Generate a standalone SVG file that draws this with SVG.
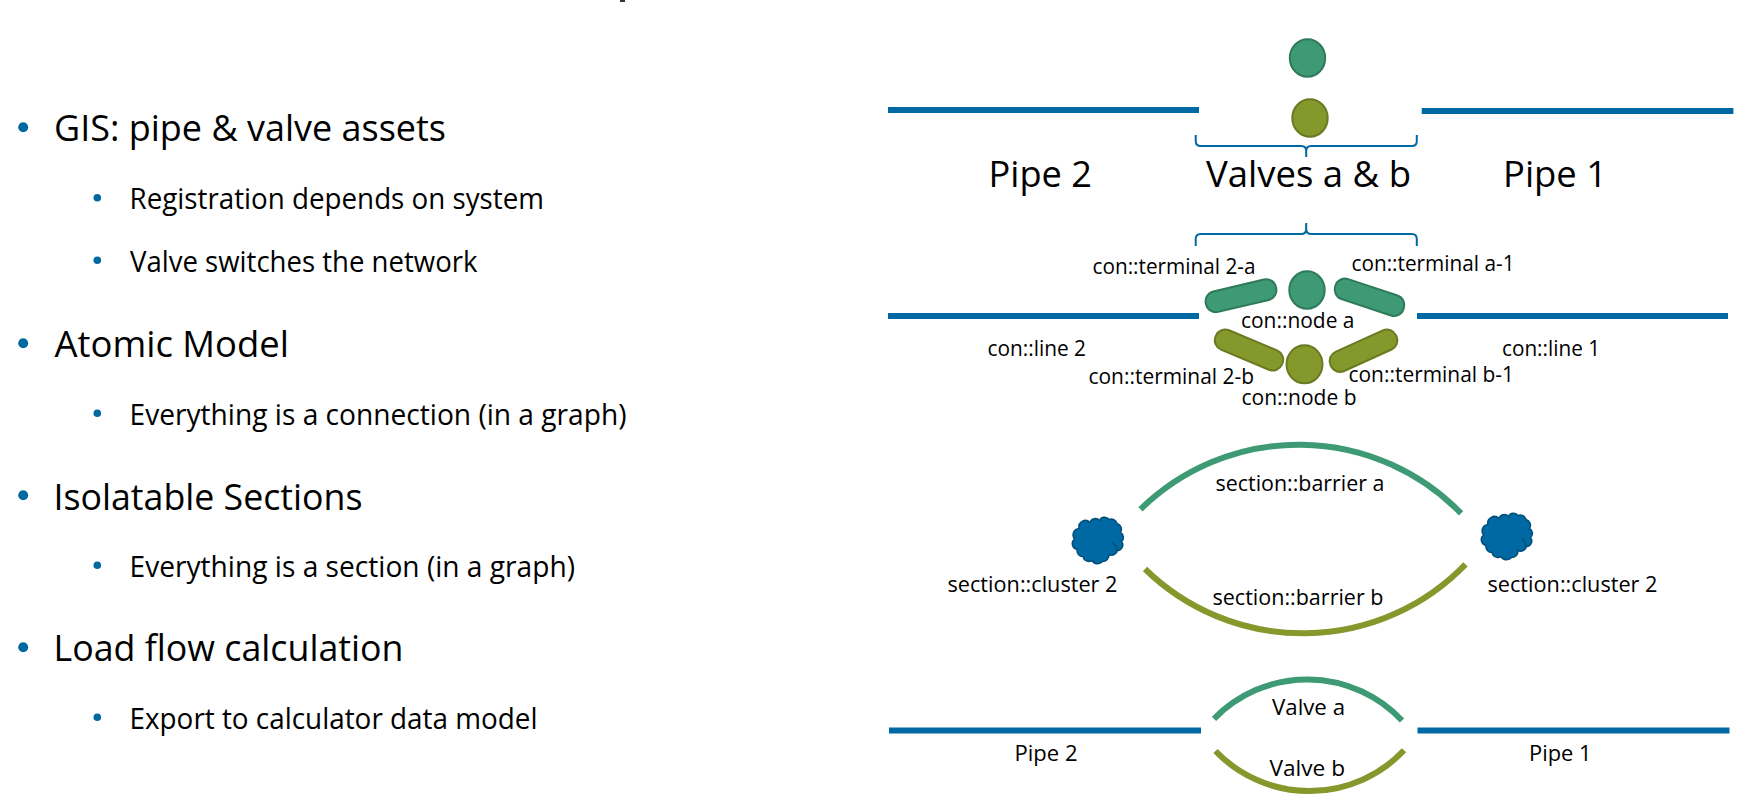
<svg xmlns="http://www.w3.org/2000/svg" width="1757" height="812" viewBox="0 0 1757 812">
<style>
text{font-family:"Open Sans","Noto Sans","Liberation Sans",sans-serif;fill:#000}
.h{font-size:36px}
.s{font-size:28.5px}
.l{font-size:21.5px}
.big{font-size:37px}
.bu{fill:#0069a3}
.pipe{stroke:#0069a3;stroke-width:6;fill:none}
.brace{stroke:#0069a3;stroke-width:2;fill:none}
.ga{fill:#3e9a74;stroke:#2f7a5b;stroke-width:2}
.ol{fill:#85982c;stroke:#6a7a22;stroke-width:2}
.ag{fill:none;stroke:#3e9a74;stroke-width:6}
.ao{fill:none;stroke:#85982c;stroke-width:6}
.cl{fill:#0069a3;stroke:#004f7a;stroke-width:1.5}
.cr{fill:none;stroke:#004f7a;stroke-width:1.5}
</style>
<defs>
<g id="cloud">
<path class="cl" d="M-19 -12A6.5 6.5 0 0 1 -8 -18A5.5 5.5 0 0 1 1.5 -20A5.5 5.5 0 0 1 11 -21A6 6 0 0 1 19 -17A6 6 0 0 1 22.5 -8A5.5 5.5 0 0 1 23.5 1A5.5 5.5 0 0 1 19.5 10A6 6 0 0 1 11 14A6.5 6.5 0 0 1 4.5 21A6.5 6.5 0 0 1 -6 20A6 6 0 0 1 -15 16A6 6 0 0 1 -21 9A6 6 0 0 1 -23.5 -1.5A6.5 6.5 0 0 1 -19 -12Z"/>
<path class="cr" d="M14.5 1.5Q18 4.5 19.5 10"/>
</g>
</defs>
<rect id="title-trace" x="620" y="0" width="5" height="2" fill="#333"/>
<g id="bullets">
<circle class="bu" cx="23.2" cy="127.3" r="5"/>
<text class="h" x="54" y="141" textLength="392" lengthAdjust="spacingAndGlyphs">GIS: pipe &amp; valve assets</text>
<circle class="bu" cx="97.3" cy="197.7" r="3.8"/>
<text class="s" x="129.5" y="208.7" textLength="414.5" lengthAdjust="spacingAndGlyphs">Registration depends on system</text>
<circle class="bu" cx="97.3" cy="260.3" r="3.8"/>
<text class="s" x="130" y="271.5" textLength="347.5" lengthAdjust="spacingAndGlyphs">Valve switches the network</text>
<circle class="bu" cx="23.2" cy="343.3" r="5"/>
<text class="h" x="54.5" y="356.5" textLength="234.5" lengthAdjust="spacingAndGlyphs">Atomic Model</text>
<circle class="bu" cx="97.3" cy="413.3" r="3.8"/>
<text class="s" x="129.5" y="425" textLength="497" lengthAdjust="spacingAndGlyphs">Everything is a connection (in a graph)</text>
<circle class="bu" cx="23.2" cy="495.3" r="5"/>
<text class="h" x="53.5" y="509.5" textLength="309" lengthAdjust="spacingAndGlyphs">Isolatable Sections</text>
<circle class="bu" cx="97.3" cy="565.3" r="3.8"/>
<text class="s" x="129.5" y="577" textLength="445.5" lengthAdjust="spacingAndGlyphs">Everything is a section (in a graph)</text>
<circle class="bu" cx="23.2" cy="647.3" r="5"/>
<text class="h" x="53.5" y="661" textLength="350" lengthAdjust="spacingAndGlyphs">Load flow calculation</text>
<circle class="bu" cx="97.3" cy="717.3" r="3.8"/>
<text class="s" x="129.5" y="729" textLength="408" lengthAdjust="spacingAndGlyphs">Export to calculator data model</text>
</g>
<g id="connectors">
<path class="pipe" d="M888 110H1199"/>
<path class="pipe" d="M1421.7 111H1733.4"/>
<path class="brace" d="M1195.7 135V141Q1195.7 146 1200.7 146H1301.2Q1306.2 146 1306.2 151V157M1306.2 151Q1306.2 146 1311.2 146H1411.8Q1416.8 146 1416.8 141V135"/>
<path class="brace" d="M1195.7 246V239Q1195.7 234 1200.7 234H1301.2Q1306.2 234 1306.2 229V223M1306.2 229Q1306.2 234 1311.2 234H1411.8Q1416.8 234 1416.8 239V246"/>
<path class="pipe" d="M888 316H1199"/>
<path class="pipe" d="M1417 316H1728"/>
<path class="ag" d="M1140.5 509.3A226 226 0 0 1 1461 513.3"/>
<path class="ao" d="M1145 569A226 226 0 0 0 1465.5 564.3"/>
<path class="ag" d="M1214 718.8A130 130 0 0 1 1402 720.5"/>
<path class="ao" d="M1215.5 751A130 130 0 0 0 1404 750.3"/>
<path class="pipe" d="M889 730.6H1201"/>
<path class="pipe" d="M1417.5 730.6H1729.5"/>
</g>
<g id="valve-a-top"><ellipse class="ga" cx="1307.5" cy="58" rx="17.7" ry="18.7"/></g>
<g id="valve-b-top"><ellipse class="ol" cx="1310" cy="118" rx="17.7" ry="18.7"/></g>
<g id="label-row-1">
<text class="big" x="988.5" y="187" textLength="103.5" lengthAdjust="spacingAndGlyphs">Pipe 2</text>
<text class="big" x="1206" y="187" textLength="205" lengthAdjust="spacingAndGlyphs">Valves a &amp; b</text>
<text class="big" x="1503" y="187" textLength="104" lengthAdjust="spacingAndGlyphs">Pipe 1</text>
</g>
<g id="node-a"><ellipse class="ga" cx="1307" cy="290" rx="17.7" ry="18.7"/></g>
<g id="node-b"><ellipse class="ol" cx="1304.5" cy="364.3" rx="18" ry="19"/></g>
<g id="terminal-2a"><rect class="ga" x="-36" y="-10.5" width="72" height="21" rx="10" transform="translate(1241 295.7) rotate(-13.3)"/></g>
<g id="terminal-a1"><rect class="ga" x="-36" y="-10.5" width="72" height="21" rx="10" transform="translate(1369.5 297.3) rotate(18.4)"/></g>
<g id="terminal-2b"><rect class="ol" x="-36" y="-10.5" width="72" height="21" rx="10" transform="translate(1249 350) rotate(22.7)"/></g>
<g id="terminal-b1"><rect class="ol" x="-36" y="-10.5" width="72" height="21" rx="10" transform="translate(1363.5 350.7) rotate(-24.4)"/></g>
<g id="label-row-2">
<text class="l" x="1092.5" y="273.5" textLength="163" lengthAdjust="spacingAndGlyphs">con::terminal 2-a</text>
<text class="l" x="1351.5" y="271" textLength="163" lengthAdjust="spacingAndGlyphs">con::terminal a-1</text>
<text class="l" x="1241" y="328" textLength="113.5" lengthAdjust="spacingAndGlyphs">con::node a</text>
<text class="l" x="987.5" y="356" textLength="98.5" lengthAdjust="spacingAndGlyphs">con::line 2</text>
<text class="l" x="1502" y="356" textLength="98" lengthAdjust="spacingAndGlyphs">con::line 1</text>
<text class="l" x="1088.5" y="383.5" textLength="165.5" lengthAdjust="spacingAndGlyphs">con::terminal 2-b</text>
<text class="l" x="1348.5" y="381.5" textLength="165.5" lengthAdjust="spacingAndGlyphs">con::terminal b-1</text>
<text class="l" x="1241.5" y="404.5" textLength="115" lengthAdjust="spacingAndGlyphs">con::node b</text>
</g>
<g id="cluster-left"><use href="#cloud" transform="translate(1098 540.5)"/></g>
<g id="cluster-right"><use href="#cloud" transform="translate(1507 536.5)"/></g>
<g id="label-row-3">
<text class="l" x="1215.5" y="490.5" textLength="169" lengthAdjust="spacingAndGlyphs">section::barrier a</text>
<text class="l" x="1212.5" y="604.5" textLength="171" lengthAdjust="spacingAndGlyphs">section::barrier b</text>
<text class="l" x="947.5" y="591.5" textLength="170" lengthAdjust="spacingAndGlyphs">section::cluster 2</text>
<text class="l" x="1487.5" y="591.5" textLength="170" lengthAdjust="spacingAndGlyphs">section::cluster 2</text>
</g>
<g id="label-row-4">
<text class="l" x="1014.5" y="760.5" textLength="63" lengthAdjust="spacingAndGlyphs">Pipe 2</text>
<text class="l" x="1529" y="760.5" textLength="62.5" lengthAdjust="spacingAndGlyphs">Pipe 1</text>
<text class="l" x="1272" y="714.5" textLength="73" lengthAdjust="spacingAndGlyphs">Valve a</text>
<text class="l" x="1269.5" y="776" textLength="75.5" lengthAdjust="spacingAndGlyphs">Valve b</text>
</g>
</svg>
